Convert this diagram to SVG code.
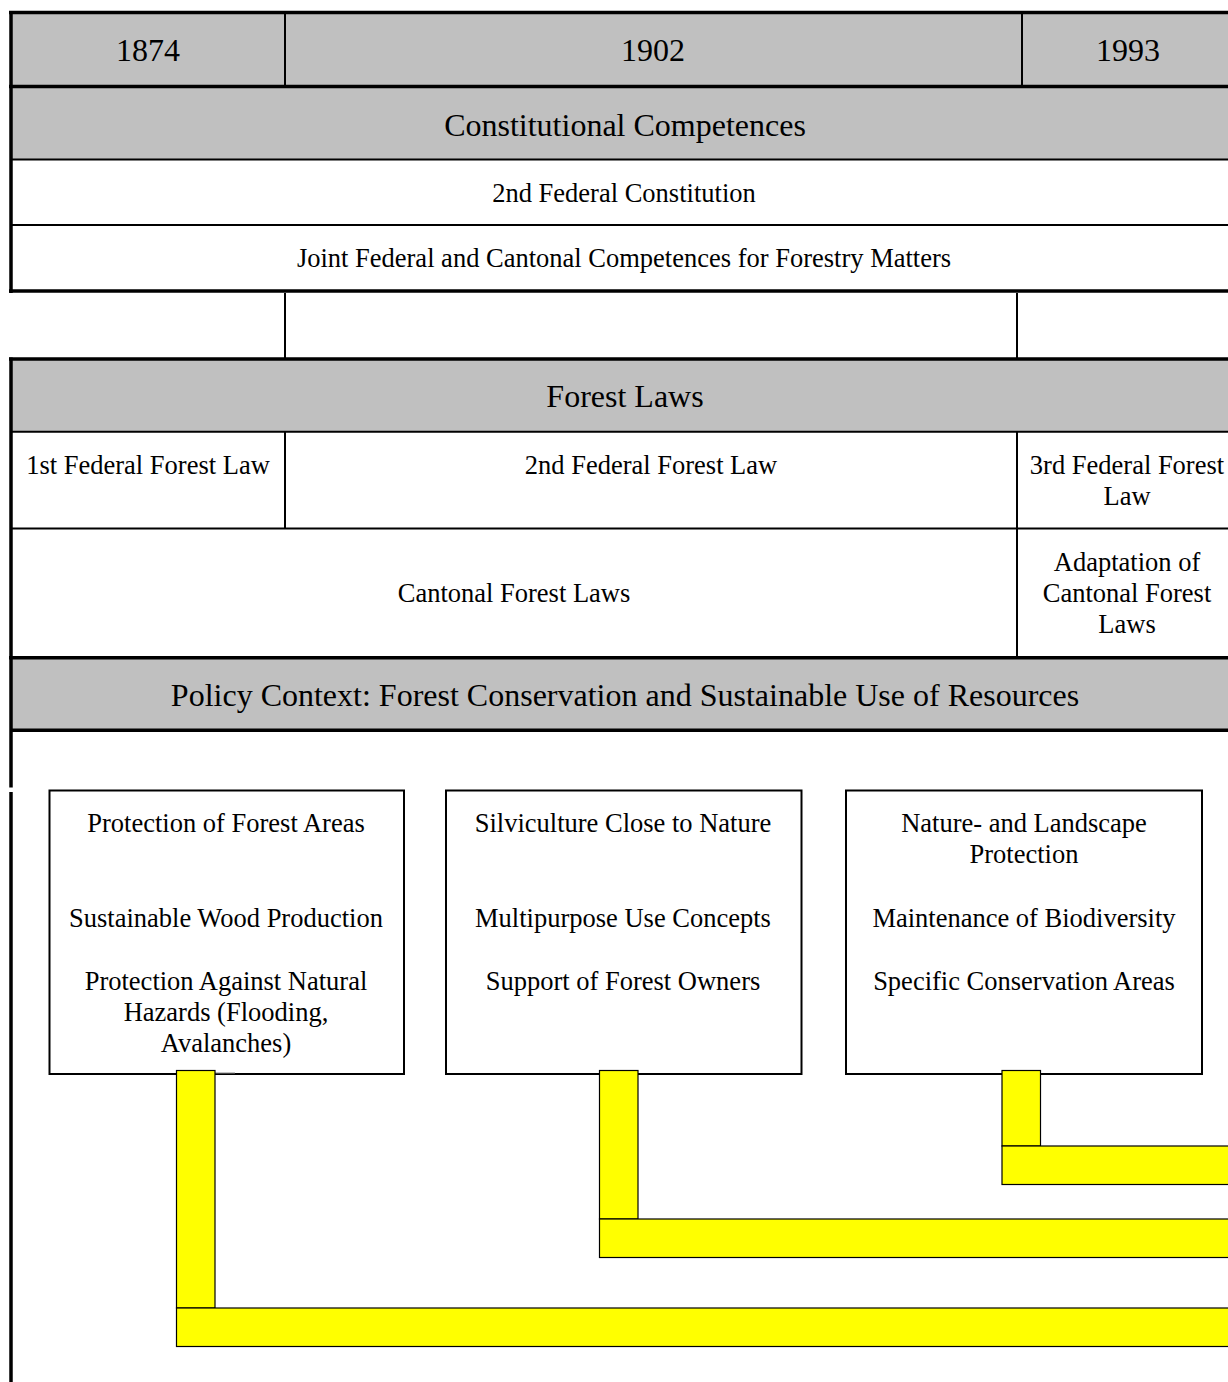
<svg xmlns="http://www.w3.org/2000/svg" width="1228" height="1382" viewBox="0 0 1228 1382">
<style>
text{font-family:"Liberation Serif","Times New Roman",serif;fill:#000;text-anchor:middle}
.h{font-size:32px}
.b{font-size:26.5px}
.gray{fill:#c0c0c0}
.thick{stroke:#000;stroke-width:3.5;fill:none}
.thin{stroke:#000;stroke-width:2;fill:none}
.box{fill:#fff;stroke:#000;stroke-width:2}
.bar{fill:#ffff00;stroke:#000;stroke-width:1.2}
</style>
<rect width="1228" height="1382" fill="#fff"/>

<g id="timeline">
  <rect class="gray" x="11" y="13" width="1230" height="146"/>
  <line class="thin" x1="285" y1="13" x2="285" y2="86"/>
  <line class="thin" x1="1022" y1="13" x2="1022" y2="86"/>
  <text class="h" x="148" y="61">1874</text>
  <text class="h" x="653" y="61">1902</text>
  <text class="h" x="1128" y="61">1993</text>
</g>

<g id="constitutional">
  <text class="h" x="625" y="136">Constitutional Competences</text>
  <line class="thin" x1="11" y1="159.5" x2="1240" y2="159.5"/>
  <text class="b" x="624" y="202">2nd Federal Constitution</text>
  <line class="thin" x1="11" y1="225" x2="1240" y2="225"/>
  <text class="b" x="624" y="267">Joint Federal and Cantonal Competences for Forestry Matters</text>
  <line class="thick" x1="9" y1="12.5" x2="1240" y2="12.5"/>
  <line class="thick" x1="9" y1="86.5" x2="1240" y2="86.5"/>
  <line class="thick" x1="9" y1="291" x2="1240" y2="291"/>
  <line class="thick" x1="11" y1="11" x2="11" y2="293"/>
</g>

<g id="gap">
  <line class="thin" x1="285" y1="293" x2="285" y2="358"/>
  <line class="thin" x1="1017" y1="293" x2="1017" y2="358"/>
</g>

<g id="forest-laws">
  <rect class="gray" x="11" y="360" width="1230" height="71"/>
  <text class="h" x="625" y="407">Forest Laws</text>
  <line class="thin" x1="11" y1="431.7" x2="1240" y2="431.7"/>
  <line class="thin" x1="285" y1="432" x2="285" y2="528"/>
  <line class="thin" x1="1017" y1="432" x2="1017" y2="659"/>
  <text class="b" x="148" y="474">1st Federal Forest Law</text>
  <text class="b" x="651" y="474">2nd Federal Forest Law</text>
  <text class="b" x="1127" y="474">3rd Federal Forest</text>
  <text class="b" x="1127" y="505">Law</text>
  <line class="thin" x1="11" y1="528.5" x2="1240" y2="528.5"/>
  <text class="b" x="514" y="602">Cantonal Forest Laws</text>
  <text class="b" x="1127" y="571">Adaptation of</text>
  <text class="b" x="1127" y="602">Cantonal Forest</text>
  <text class="b" x="1127" y="633">Laws</text>
  <line class="thick" x1="9" y1="359" x2="1240" y2="359"/>
</g>

<g id="policy-context">
  <rect class="gray" x="11" y="659" width="1230" height="71"/>
  <text class="h" x="625" y="706">Policy Context: Forest Conservation and Sustainable Use of Resources</text>
  <line class="thick" x1="9" y1="657.7" x2="1240" y2="657.7"/>
  <line class="thick" x1="11" y1="730.3" x2="1240" y2="730.3"/>
  <line class="thick" x1="11" y1="357.5" x2="11" y2="787.5"/>
  <line class="thick" x1="11" y1="792" x2="11" y2="1382"/>
</g>

<g id="box-protection">
  <rect class="box" x="49.5" y="790.5" width="354.5" height="283.5"/>
  <text class="b" x="226" y="832">Protection of Forest Areas</text>
  <text class="b" x="226" y="927">Sustainable Wood Production</text>
  <text class="b" x="226" y="990">Protection Against Natural</text>
  <text class="b" x="226" y="1021">Hazards (Flooding,</text>
  <text class="b" x="226" y="1052">Avalanches)</text>
</g>

<g id="box-silviculture">
  <rect class="box" x="446" y="790.5" width="355.5" height="283.5"/>
  <text class="b" x="623" y="832">Silviculture Close to Nature</text>
  <text class="b" x="623" y="927">Multipurpose Use Concepts</text>
  <text class="b" x="623" y="990">Support of Forest Owners</text>
</g>

<g id="box-nature">
  <rect class="box" x="846" y="790.5" width="356" height="283.5"/>
  <text class="b" x="1024" y="832">Nature- and Landscape</text>
  <text class="b" x="1024" y="863">Protection</text>
  <text class="b" x="1024" y="927">Maintenance of Biodiversity</text>
  <text class="b" x="1024" y="990">Specific Conservation Areas</text>
</g>

<g id="connectors">
  <line x1="215" y1="1073" x2="235" y2="1073" stroke="#888" stroke-width="1"/>
  <rect class="bar" x="176.5" y="1070.5" width="38.5" height="237.5"/>
  <rect class="bar" x="176.5" y="1308" width="1060" height="38.5"/>
  <rect class="bar" x="599.5" y="1070.5" width="38.5" height="148.5"/>
  <rect class="bar" x="599.5" y="1219" width="640" height="38.5"/>
  <rect class="bar" x="1002" y="1070.5" width="38.5" height="75.5"/>
  <rect class="bar" x="1002" y="1146" width="240" height="38.5"/>
</g>
</svg>
